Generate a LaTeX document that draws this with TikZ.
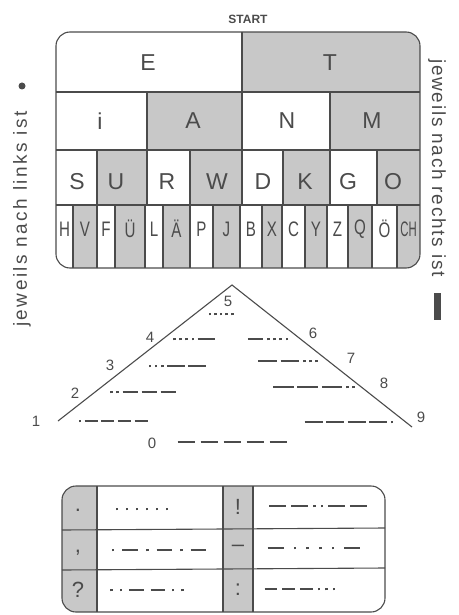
\documentclass[tikz,border=0pt]{standalone}
\usepackage{fontspec}
\setmainfont{Liberation Sans}
\definecolor{cellgray}{RGB}{200,200,200}
\definecolor{ink}{RGB}{75,75,75}
\newlength\dashlen
\newlength\mgap
\newcommand\Mdot{\kern\mgap\rule[2pt]{2.6pt}{2.6pt}\kern\mgap}
\newcommand\Mdash{\kern\mgap\rule[2.5pt]{\dashlen}{1.5pt}\kern\mgap}
\newcommand\morse[3]{{\setlength\dashlen{#1}\setlength\mgap{#2}#3}}
\tikzset{
  gridline/.style={draw=ink, line width=1.1pt},
  lt/.style={font=\fontsize{23}{23}\selectfont, text=ink, inner sep=0pt},
  ltsm/.style={font=\fontsize{21}{21}\selectfont, text=ink, inner sep=0pt, xscale=0.72},
  num/.style={font=\fontsize{15}{15}\selectfont, text=ink, inner sep=0pt},
  side/.style={font=\fontsize{19}{19}\selectfont, text=ink, inner sep=0pt},
  code/.style={inner sep=0pt, text=ink, color=ink},
  sym/.style={font=\fontsize{22}{22}\selectfont, text=ink, inner sep=0pt}
}
\begin{document}
\begin{tikzpicture}[x=1pt,y=-1pt]
\useasboundingbox (0,0) rectangle (458,615);

% ---------- START ----------
\node[font=\bfseries\fontsize{12}{12}\selectfont, text=ink, inner sep=0pt] (start) at (248,19) {START};

% ---------- main table ----------
\begin{scope}
  \clip[rounded corners=14pt] (56,32) rectangle (420,268);
  % row 1
  \fill[cellgray] (242,32) rectangle (420,92);
  % row 2
  \fill[cellgray] (147,92) rectangle (242,150);
  \fill[cellgray] (330,92) rectangle (420,150);
  % row 3
  \foreach \a/\b in {97/147,190/242,283/330,377/420}
    \fill[cellgray] (\a,150) rectangle (\b,205);
  % row 4
  \foreach \a/\b in {73/97,115/145,163/190,213/240,262/282,305/327,348/372,397/420}
    \fill[cellgray] (\a,205) rectangle (\b,268);
\end{scope}
\draw[gridline, rounded corners=14pt] (56,32) rectangle (420,268);
\draw[gridline] (56,92) -- (420,92) (56,150) -- (420,150) (56,205) -- (420,205);
\draw[gridline] (242,32) -- (242,92);
\foreach \x in {147,242,330} \draw[gridline] (\x,92) -- (\x,150);
\foreach \x in {97,147,190,242,283,330,377} \draw[gridline] (\x,150) -- (\x,205);
\foreach \x in {73,97,115,145,163,190,213,240,262,282,305,327,348,372,397} \draw[gridline] (\x,205) -- (\x,268);

% letters
\node[lt] (E) at (148,63) {E};
\node[lt] (T) at (330,63) {T};
\node[lt] (I) at (100,121) {i};
\node[lt] (A) at (193,121) {A};
\node[lt] (N) at (287,121) {N};
\node[lt] (M) at (372,121) {M};
\node[lt] (S) at (77,182) {S};
\node[lt] (U) at (116,182) {U};
\node[lt] (R) at (167,182) {R};
\node[lt] (W) at (217,182) {W};
\node[lt] (D) at (263,182) {D};
\node[lt] (K) at (305,182) {K};
\node[lt] (G) at (348,182) {G};
\node[lt] (O) at (393,182) {O};
\node[ltsm] (H) at (64.5,229) {H};
\node[ltsm] (V) at (85,229) {V};
\node[ltsm] (F) at (106,229) {F};
\node[ltsm] (UE) at (130,229) {Ü};
\node[ltsm] (L) at (154,229) {L};
\node[ltsm] (AE) at (176.5,229) {Ä};
\node[ltsm] (P) at (201.5,229) {P};
\node[ltsm] (J) at (226.5,229) {J};
\node[ltsm] (B) at (251,229) {B};
\node[ltsm] (X) at (272,229) {X};
\node[ltsm] (C) at (293.5,229) {C};
\node[ltsm] (Y) at (316,229) {Y};
\node[ltsm] (Z) at (337.5,229) {Z};
\node[ltsm] (Q) at (360,229) {Q};
\node[ltsm] (OE) at (384.5,229) {Ö};
\node[ltsm, xscale=0.75] (CH) at (408.5,229) {CH};

% ---------- side texts ----------
\node[side, rotate=90] (lefttext) at (22,219) {\addfontfeature{LetterSpace=13}jeweils nach links ist};
\node[circle, fill=ink, inner sep=0pt, minimum size=7pt] (leftdot) at (22,86) {};
\node[side, rotate=-90] (righttext) at (437,168) {\addfontfeature{LetterSpace=9}jeweils nach rechts ist};
\node[rectangle, fill=ink, inner sep=0pt, minimum width=7pt, minimum height=27pt] (rightbar) at (437,306) {};

% ---------- triangle ----------
\coordinate (tl) at (58,421);
\coordinate (tt) at (232,285);
\coordinate (tr) at (412,427);
\draw[gridline] (tl) -- (tt) -- (tr);

\node[num] (n1) at (36,421) {1};
\node[num] (n2) at (75,393) {2};
\node[num] (n3) at (110,365) {3};
\node[num] (n4) at (150,337) {4};
\node[num] (n5) at (228,301) {5};
\node[num] (n6) at (313,333) {6};
\node[num] (n7) at (351,358) {7};
\node[num] (n8) at (384,383) {8};
\node[num] (n9) at (421,417) {9};
\node[num] (n0) at (152,443) {0};

\node[code] (m1) at (113,422) {\morse{13pt}{1.8pt}{\Mdot\Mdash\Mdash\Mdash\Mdash}};
\node[code] (m2) at (143,393) {\morse{15.4pt}{1.8pt}{\Mdot\Mdot\Mdash\Mdash\Mdash}};
\node[code] (m3) at (177,367) {\morse{17.4pt}{1.8pt}{\Mdot\Mdot\Mdot\Mdash\Mdash}};
\node[code] (m4) at (194,340) {\morse{17.4pt}{1.8pt}{\Mdot\Mdot\Mdot\Mdot\Mdash}};
\node[code] (m5) at (221,315) {\morse{10pt}{1.5pt}{\Mdot\Mdot\Mdot\Mdot\Mdot}};
\node[code] (m6) at (268,340) {\morse{15.4pt}{1.8pt}{\Mdash\Mdot\Mdot\Mdot\Mdot}};
\node[code] (m7) at (288,362) {\morse{18.9pt}{1.8pt}{\Mdash\Mdash\Mdot\Mdot\Mdot}};
\node[code] (m8) at (314,388) {\morse{20.7pt}{1.8pt}{\Mdash\Mdash\Mdash\Mdot\Mdot}};
\node[code] (m9) at (349,423) {\morse{17.9pt}{1.8pt}{\Mdash\Mdash\Mdash\Mdash\Mdot}};
\node[code] (m0) at (232,443) {\morse{17pt}{3pt}{\Mdash\Mdash\Mdash\Mdash\Mdash}};

% ---------- bottom table ----------
\begin{scope}
  \clip[rounded corners=14pt] (62,486) rectangle (385,612);
  \fill[cellgray] (62,486) rectangle (97,612);
  \fill[cellgray] (223,486) rectangle (253,612);
\end{scope}
\draw[gridline, rounded corners=14pt] (62,486) rectangle (385,612);
\draw[gridline] (62,530) -- (385,528) (62,570) -- (385,568);
\draw[gridline] (97,486) -- (97,612) (223,486) -- (223,612) (253,486) -- (253,612);

\node[sym] (pt) at (78,510) {.};
\node[sym] (cm) at (78,553) {,};
\node[sym] (qm) at (78,590) {?};
\node[sym] (ex) at (238,507) {!};
\node[sym] (hy) at (238,548) {–};
\node[sym] (co) at (238,590) {:};

\node[code] (cpt) at (142,510) {\morse{10pt}{3.7pt}{\Mdot\Mdot\Mdot\Mdot\Mdot\Mdot}};
\node[code] (ccm) at (159,551) {\morse{15.6pt}{4pt}{\Mdot\Mdash\Mdot\Mdash\Mdot\Mdash}};
\node[code] (cqm) at (147,591) {\morse{14.2pt}{3.5pt}{\Mdot\Mdot\Mdash\Mdash\Mdot\Mdot}};
\node[code] (cex) at (318,507) {\morse{16.8pt}{2.5pt}{\Mdash\Mdash\Mdot\Mdot\Mdash\Mdash}};
\node[code] (chy) at (314,549) {\morse{16.2pt}{5pt}{\Mdash\Mdot\Mdot\Mdot\Mdot\Mdash}};
\node[code] (cco) at (300,590) {\morse{12.6pt}{2.5pt}{\Mdash\Mdash\Mdash\Mdot\Mdot\Mdot}};
\end{tikzpicture}
\end{document}
